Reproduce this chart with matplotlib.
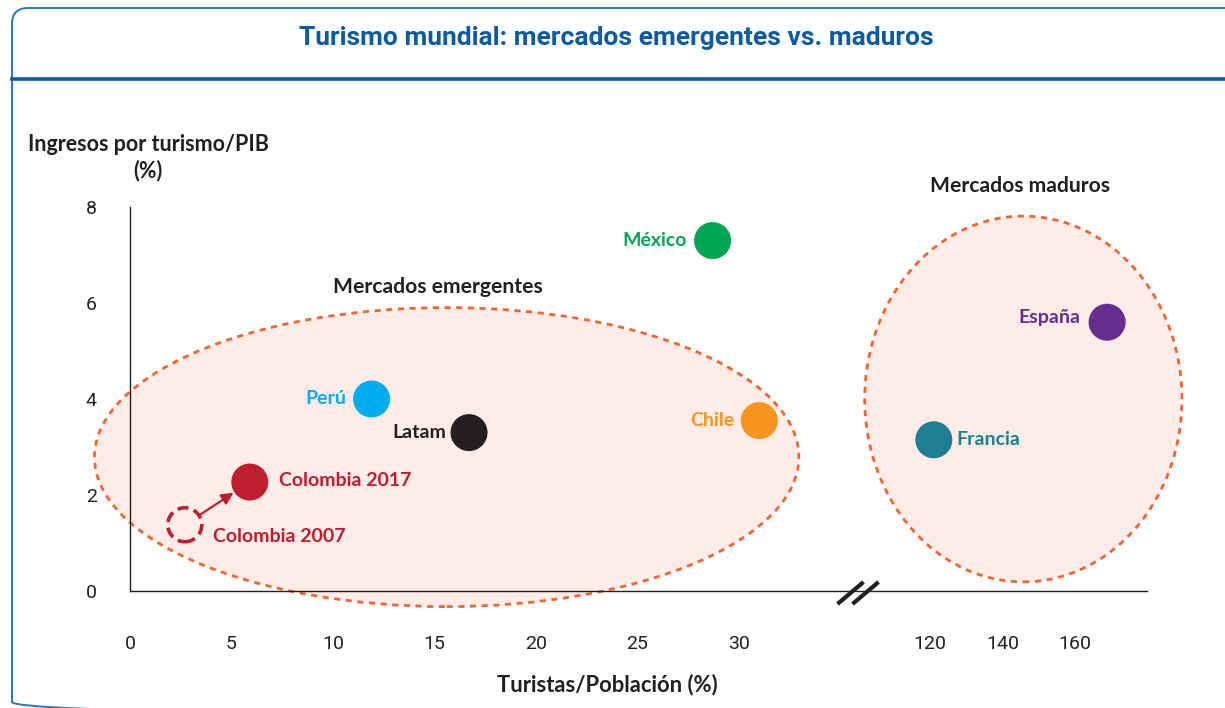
import numpy as np
import matplotlib
matplotlib.use("Agg")
import matplotlib.pyplot as plt
from matplotlib.patches import Ellipse, FancyBboxPatch
from matplotlib.lines import Line2D
import matplotlib.transforms as mtransforms

# ---------------- data ----------------
countries = ["México", "Perú", "Latam", "Chile", "Colombia 2017", "Colombia 2007", "España", "Francia"]
turistas_pob = [28.7, 11.9, 16.7, 31.0, 5.9, 2.7, 168.9, 121.1]
ingresos_pib = [7.3, 4.0, 3.3, 3.55, 2.27, 1.38, 5.6, 3.15]
colors = ["#00A651", "#00AEEF", "#231F20", "#F7941D", "#BE1E2D", "#BE1E2D", "#662D91", "#1F7F92"]
x_ticks = [0, 5, 10, 15, 20, 25, 30, 120, 140, 160]
y_ticks = [0, 2, 4, 6, 8]

# label offsets (pixels): dx, dy, ha
label_style = {
    "México": (-26, 0, "right"),
    "Perú": (-25, 0, "right"),
    "Latam": (-23, 0, "right"),
    "Chile": (-25, 0, "right"),
    "Colombia 2017": (29, 2, "left"),
    "Colombia 2007": (28, -12, "left"),
    "España": (-27, 5, "right"),
    "Francia": (23, 0, "left"),
}

# ---------------- broken x scale ----------------
S_RIGHT = 0.1786
U120 = 39.4
U100 = U120 - 20 * S_RIGHT
K_MID = (U100 - 35) / 65.0


def fwd(x):
    x = np.asarray(x, dtype=float)
    return np.where(x <= 35, x,
                    np.where(x <= 100, 35 + (x - 35) * K_MID, U120 + (x - 120) * S_RIGHT))


def inv(u):
    u = np.asarray(u, dtype=float)
    return np.where(u <= 35, u,
                    np.where(u <= U100, 35 + (u - 35) / K_MID, 120 + (u - U120) / S_RIGHT))


W, H = 1225, 708
DPI = 100
fig = plt.figure(figsize=(W / DPI, H / DPI), dpi=DPI)
px = 72.0 / DPI  # points per pixel

LBL_FONT = ["Lato", "DejaVu Sans"]
NARROW = ["Liberation Sans Narrow", "Roboto", "DejaVu Sans"]
DARK = "#231F20"
BLUE = "#0B5AA2"

# frame (pixel coordinates, y measured from top)
pix = mtransforms.Affine2D().scale(1, -1).translate(0, H)
frame = FancyBboxPatch((12, 8), 1245 - 12, 718 - 8,
                       boxstyle="round,pad=0,rounding_size=16",
                       transform=pix, facecolor="none",
                       edgecolor="#2F74BA", linewidth=1.4, clip_on=False)
fig.patches.append(frame)
fig.add_artist(Line2D([12, W], [79, 79], transform=pix, color=BLUE, linewidth=2.6))
fig.text(616 / W, 1 - 38 / H, "Turismo mundial: mercados emergentes vs. maduros",
         ha="center", va="center", fontsize=19, fontweight="bold", color=BLUE,
         family=NARROW)

# axes geometry (pixels)
ax_l, ax_r, ax_t, ax_b = 80, 1200, 200, 640
ax = fig.add_axes([ax_l / W, 1 - ax_b / H, (ax_r - ax_l) / W, (ax_b - ax_t) / H])
ax.set_xscale("function", functions=(fwd, inv))

PX_PER_U = 20.3
PX_PER_Y = 48.0
x0_px, y0_px = 130, 591
ax.set_xlim(inv((ax_l - x0_px) / PX_PER_U), inv((ax_r - x0_px) / PX_PER_U))
ax.set_ylim((y0_px - ax_b) / PX_PER_Y, (y0_px - ax_t) / PX_PER_Y)
ax.patch.set_visible(False)

for s in ["top", "right"]:
    ax.spines[s].set_visible(False)
ax.spines["left"].set_position(("data", 0))
ax.spines["bottom"].set_position(("data", 0))
ax.spines["left"].set_bounds(0, 8)
ax.spines["bottom"].set_bounds(0, 180)
for s in ["left", "bottom"]:
    ax.spines[s].set_color(DARK)
    ax.spines[s].set_linewidth(1.0)

ax.set_xticks(x_ticks)
ax.set_xticklabels([str(t) for t in x_ticks])
ax.set_yticks(y_ticks)
ax.set_yticklabels([str(t) for t in y_ticks])
ax.tick_params(axis="x", length=0, pad=32, labelsize=14, labelcolor=DARK)
ax.tick_params(axis="y", length=0, pad=24, labelsize=14, labelcolor=DARK)
for lab in ax.get_xticklabels() + ax.get_yticklabels():
    lab.set_family(NARROW)
ax.minorticks_off()

# ellipses
ell_color = "#F26430"
fill = "#FDECE7"
e1 = Ellipse((15.6, 2.79), 34.7, 6.23, facecolor=fill, edgecolor=ell_color,
             linestyle=(0, (2.2, 2.0)), linewidth=2.0, zorder=1)
e2 = Ellipse((145.8, 4.0), 87.5, 7.62, facecolor=fill, edgecolor=ell_color,
             linestyle=(0, (2.2, 2.0)), linewidth=2.0, zorder=1)
ax.add_patch(e1)
ax.add_patch(e2)

# points
msize = (37 * px) ** 2
for name, xv, yv, c in zip(countries, turistas_pob, ingresos_pib, colors):
    if name == "Colombia 2007":
        ax.scatter([xv], [yv], s=(34 * px) ** 2, facecolors="none", edgecolors=c,
                   linewidths=2.6, linestyles=(0, (3.0, 1.6)), zorder=4)
    else:
        ax.scatter([xv], [yv], s=msize, color=c, edgecolors="none", zorder=4)
    dx, dy, ha = label_style[name]
    ax.annotate(name, (xv, yv), xytext=(dx * px, dy * px), textcoords="offset points",
                ha=ha, va="center", fontsize=14, fontweight="bold", color=c,
                family=LBL_FONT, zorder=5)

# arrow Colombia 2007 -> 2017
i07 = countries.index("Colombia 2007")
i17 = countries.index("Colombia 2017")
ax.annotate("", xy=(turistas_pob[i17], ingresos_pib[i17]),
            xytext=(turistas_pob[i07], ingresos_pib[i07]),
            arrowprops=dict(arrowstyle="-|>,head_length=0.7,head_width=0.35",
                            color="#BE1E2D", lw=1.6, shrinkA=14, shrinkB=14),
            zorder=3)

# break marks on x axis (pixel coordinates)
for off in (-7.5, 7.5):
    fig.add_artist(Line2D([858 + off - 13, 858 + off + 13], [604, 582], transform=pix,
                          color=DARK, lw=3.0, solid_capstyle="butt", zorder=6))

# axis titles & group labels
fig.text(148 / W, 1 - 158 / H, "Ingresos por turismo/PIB\n(%)", ha="center", va="center",
         fontsize=15.5, fontweight="bold", color=DARK, family=LBL_FONT, linespacing=1.25)
fig.text(607 / W, 1 - 685 / H, "Turistas/Población (%)", ha="center", va="center",
         fontsize=15.8, fontweight="bold", color=DARK, family=LBL_FONT)
fig.text(438 / W, 1 - 287 / H, "Mercados emergentes", ha="center", va="center",
         fontsize=15.2, fontweight="bold", color=DARK, family=LBL_FONT)
fig.text(1020 / W, 1 - 186 / H, "Mercados maduros", ha="center", va="center",
         fontsize=15.2, fontweight="bold", color=DARK, family=LBL_FONT)

fig.savefig("out.png", dpi=DPI)
